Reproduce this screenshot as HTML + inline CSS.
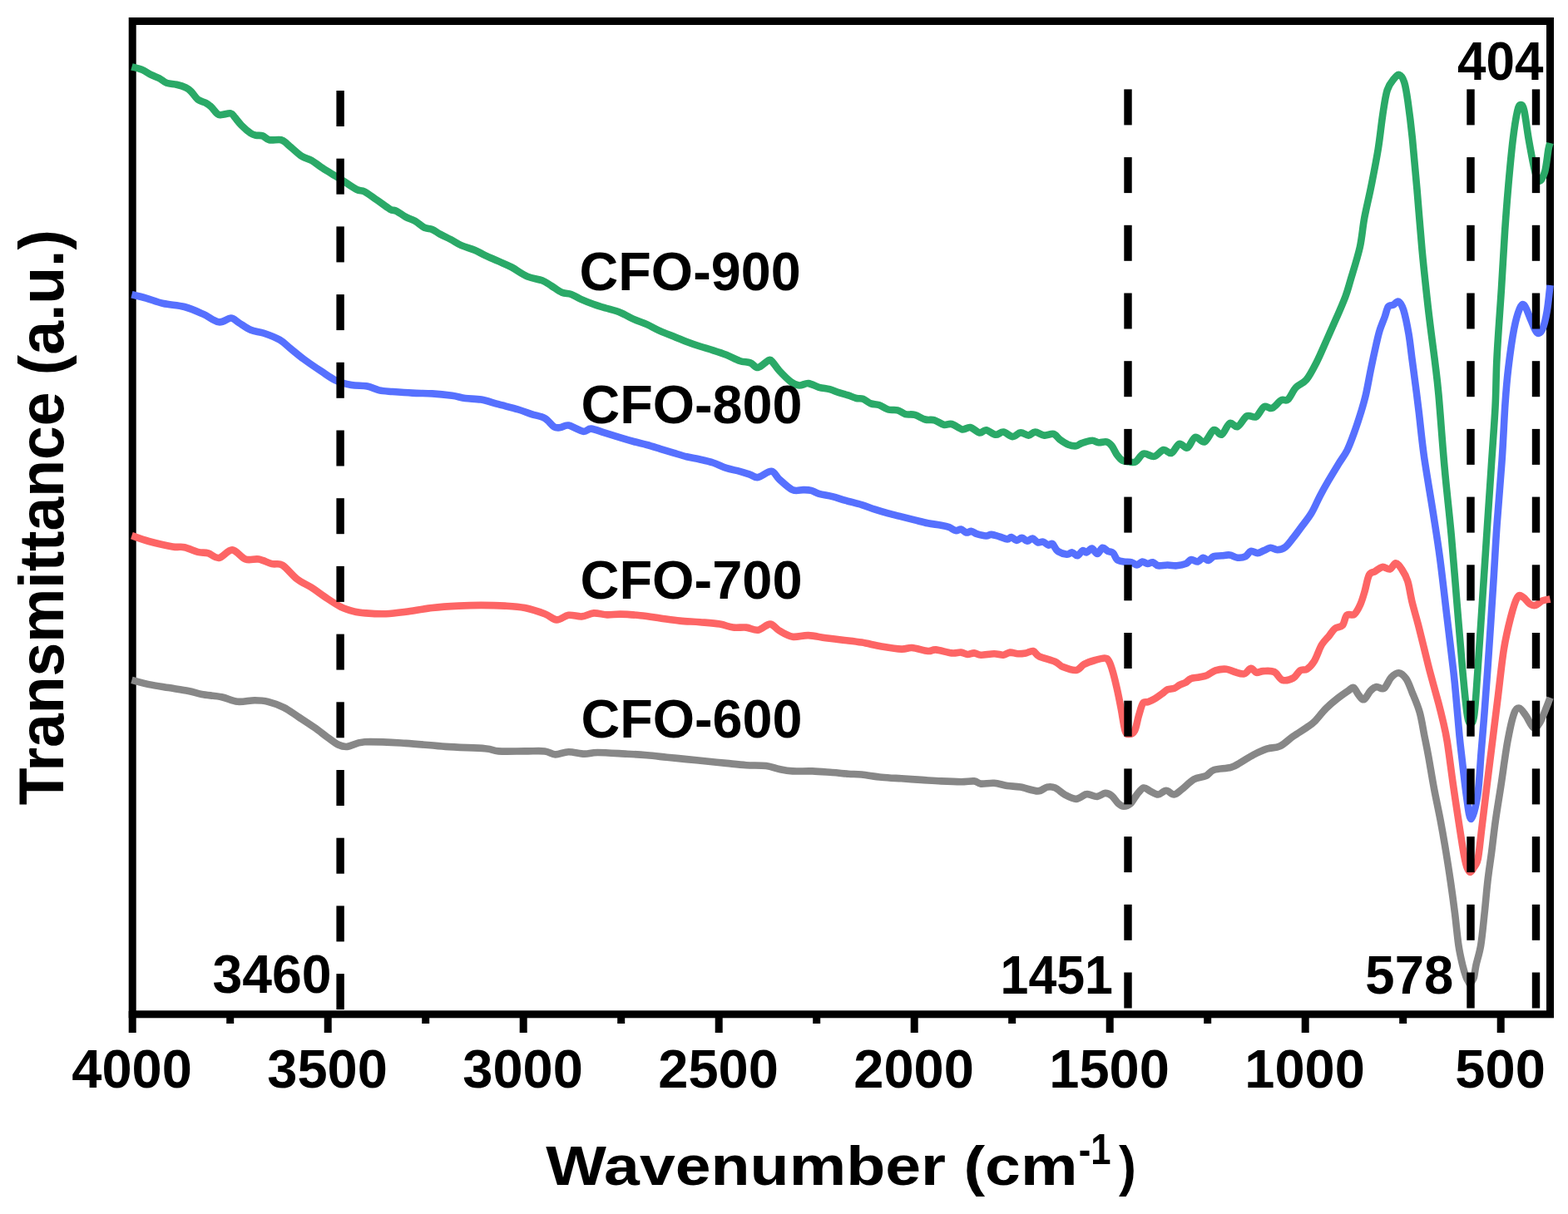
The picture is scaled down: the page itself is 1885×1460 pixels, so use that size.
<!DOCTYPE html>
<html><head><meta charset="utf-8"><title>FTIR spectra</title>
<style>html,body{margin:0;padding:0;background:#fff;}svg{display:block;}</style>
</head><body>
<svg width="1885" height="1460" viewBox="0 0 1885 1460">
<rect width="1885" height="1460" fill="#fff"/>
<rect x="159.2" y="25.5" width="1704.3" height="1194.3" fill="none" stroke="#000" stroke-width="9"/>
<g fill="none" stroke-width="8.6" stroke-linejoin="round" stroke-linecap="butt">
<path stroke="#878787" d="M158.4 817.9C161.8 818.8 171.5 821.6 178.9 823.1C186.3 824.6 194.8 825.8 202.7 827.1C210.6 828.4 220.0 829.7 226.6 831.0C233.2 832.3 235.9 833.8 242.5 835.0C249.1 836.2 259.2 836.7 266.4 838.2C273.6 839.7 278.9 843.1 285.5 843.8C292.1 844.5 300.1 842.2 306.2 842.2C312.3 842.2 316.3 842.3 322.1 843.8C327.9 845.2 335.1 847.8 341.2 850.9C347.3 854.0 352.6 858.1 358.7 862.1C364.8 866.1 372.0 870.7 377.8 874.8C383.6 878.9 388.9 883.2 393.7 886.7C398.5 890.2 402.5 893.6 406.5 895.5C410.5 897.4 412.3 898.4 417.6 897.9C422.9 897.4 426.6 893.0 438.3 892.3C450.0 891.6 471.5 893.0 487.7 893.9C503.9 894.8 519.6 896.8 535.5 897.9C551.4 899.0 572.6 899.3 583.2 900.2C593.8 901.1 591.2 902.9 599.2 903.4C607.2 903.9 621.7 903.4 631.0 903.4C640.3 903.4 648.8 902.7 654.9 903.4C661.0 904.1 662.8 907.3 667.6 907.4C672.4 907.5 677.7 904.3 683.5 904.2C689.3 904.1 696.8 906.5 702.6 906.6C708.4 906.7 710.0 905.0 718.5 905.0C727.0 905.0 744.0 906.2 753.9 906.7C763.8 907.2 769.8 907.6 777.7 908.3C785.7 909.0 793.6 909.9 801.6 910.7C809.6 911.5 817.5 912.3 825.5 913.1C833.5 913.9 841.4 914.7 849.4 915.5C857.4 916.3 865.2 917.1 873.2 917.9C881.2 918.7 889.1 919.7 897.1 920.2C905.1 920.7 914.4 920.2 921.0 921.0C927.6 921.8 931.6 923.9 936.9 925.0C942.2 926.1 946.2 927.0 952.8 927.4C959.4 927.8 968.7 927.1 976.7 927.4C984.7 927.7 993.4 928.5 1000.6 929.0C1007.8 929.5 1014.1 930.3 1020.0 930.7C1025.9 931.1 1029.3 930.8 1035.9 931.5C1042.5 932.2 1051.8 933.9 1059.8 934.7C1067.8 935.5 1075.8 935.8 1083.7 936.3C1091.7 936.8 1099.5 937.4 1107.5 937.9C1115.5 938.4 1123.4 939.0 1131.4 939.4C1139.4 939.8 1148.7 940.2 1155.3 940.2C1161.9 940.2 1167.2 939.0 1171.2 939.4C1175.2 939.8 1175.2 942.2 1179.2 942.6C1183.2 943.0 1189.8 941.4 1195.1 941.8C1200.4 942.2 1205.7 944.2 1211.0 945.0C1216.3 945.8 1220.8 945.5 1226.9 946.6C1233.0 947.7 1242.3 951.4 1247.6 951.4C1252.9 951.4 1255.2 947.3 1258.7 946.6C1262.2 945.9 1264.6 945.8 1268.3 947.4C1272.0 949.0 1276.8 954.0 1281.0 956.2C1285.2 958.5 1289.7 961.0 1293.7 960.9C1297.7 960.8 1302.3 956.3 1304.9 955.4C1307.5 954.5 1307.1 955.1 1309.5 955.5C1311.9 955.9 1315.9 958.2 1319.1 957.9C1322.3 957.6 1325.7 954.0 1328.6 953.9C1331.5 953.8 1333.9 955.0 1336.6 957.1C1339.3 959.2 1342.2 964.5 1344.6 966.6C1347.0 968.7 1348.5 969.8 1350.9 969.8C1353.3 969.8 1356.2 969.0 1358.9 966.6C1361.6 964.2 1364.2 958.7 1366.8 955.5C1369.4 952.3 1372.1 948.2 1374.8 947.5C1377.5 946.8 1379.9 950.2 1382.8 951.5C1385.7 952.8 1389.1 955.6 1392.3 955.5C1395.5 955.4 1398.7 950.7 1401.9 950.7C1405.1 950.7 1408.2 955.8 1411.4 955.5C1414.6 955.2 1417.0 952.1 1421.0 949.1C1425.0 946.1 1430.5 939.9 1435.3 937.2C1440.1 934.6 1445.6 935.1 1449.6 933.2C1453.6 931.3 1454.2 927.7 1459.2 926.0C1464.2 924.3 1474.5 924.4 1479.8 922.9C1485.1 921.4 1486.5 919.8 1491.0 917.3C1495.5 914.8 1501.6 910.5 1506.9 907.7C1512.2 904.9 1517.5 902.3 1522.8 900.6C1528.1 898.9 1533.4 899.9 1538.7 897.4C1544.0 894.9 1549.3 889.2 1554.6 885.5C1559.9 881.8 1566.4 878.0 1570.6 875.1C1574.8 872.2 1576.1 871.9 1580.0 868.0C1583.9 864.1 1589.5 856.6 1594.2 851.9C1599.0 847.1 1604.0 843.0 1608.5 839.5C1613.0 836.0 1617.9 832.7 1621.0 830.6C1624.1 828.5 1625.1 826.1 1627.2 827.0C1629.3 827.9 1631.3 833.5 1633.4 835.9C1635.5 838.3 1637.3 842.1 1639.7 841.2C1642.1 840.3 1645.2 833.1 1647.7 830.6C1650.2 828.1 1652.1 826.6 1654.8 826.1C1657.5 825.6 1660.7 829.8 1663.7 827.9C1666.7 826.0 1669.6 817.6 1672.6 814.5C1675.6 811.4 1678.5 808.9 1681.5 809.2C1684.5 809.5 1687.7 812.4 1690.4 816.3C1693.1 820.1 1694.8 825.6 1697.5 832.3C1700.2 839.0 1704.2 847.8 1706.7 856.7C1709.2 865.6 1710.7 876.6 1712.5 885.5C1714.3 894.4 1715.4 899.5 1717.3 910.0C1719.2 920.5 1721.6 935.6 1724.0 948.4C1726.4 961.2 1729.3 973.9 1731.7 986.7C1734.1 999.5 1736.4 1012.9 1738.4 1025.1C1740.4 1037.3 1742.0 1047.8 1743.8 1060.0C1745.6 1072.2 1747.4 1085.6 1749.0 1098.4C1750.6 1111.2 1751.9 1126.4 1753.4 1136.7C1754.9 1147.0 1756.7 1154.1 1758.2 1160.5C1759.7 1166.9 1761.3 1171.7 1762.5 1175.0C1763.7 1178.3 1764.5 1179.1 1765.3 1180.5C1766.1 1181.9 1766.5 1183.5 1767.2 1183.5C1767.9 1183.5 1768.4 1181.9 1769.2 1180.5C1770.0 1179.1 1771.1 1178.3 1772.0 1175.0C1772.9 1171.7 1773.1 1166.9 1774.5 1160.5C1775.9 1154.1 1778.5 1147.0 1780.2 1136.7C1781.9 1126.4 1783.2 1111.2 1784.6 1098.4C1786.0 1085.6 1787.0 1072.2 1788.4 1060.0C1789.8 1047.8 1791.5 1037.3 1793.1 1025.1C1794.7 1012.9 1796.0 1000.2 1797.9 986.7C1799.8 973.2 1802.1 959.9 1804.5 944.1C1806.9 928.3 1809.7 906.4 1812.3 892.1C1814.9 877.8 1817.7 864.9 1820.1 858.2C1822.5 851.5 1824.2 851.3 1826.6 851.7C1829.0 852.1 1831.7 856.9 1834.5 860.8C1837.3 864.7 1840.8 873.8 1843.6 875.1C1846.4 876.4 1848.8 872.7 1851.4 868.6C1854.0 864.5 1857.2 855.3 1859.2 850.4C1861.2 845.5 1862.8 840.9 1863.5 839.0"/>
<path stroke="#fd6565" d="M158.4 644.2C161.8 645.3 170.7 648.8 178.9 651.0C187.1 653.2 200.3 656.2 207.5 657.4C214.7 658.6 216.8 657.1 221.8 658.2C226.9 659.3 233.0 662.6 237.8 663.8C242.6 665.0 246.3 664.2 250.5 665.4C254.7 666.6 258.4 671.6 263.2 670.9C268.0 670.2 273.8 661.1 279.1 661.4C284.4 661.7 289.8 670.6 295.1 672.5C300.4 674.4 305.7 671.6 311.0 672.5C316.3 673.4 322.1 676.9 326.9 678.1C331.7 679.3 334.6 676.7 339.6 679.7C344.6 682.8 351.3 691.9 357.1 696.4C362.9 700.9 369.0 703.1 374.6 706.7C380.2 710.3 384.8 714.0 390.6 717.9C396.5 721.8 403.9 726.9 409.7 729.8C415.5 732.7 420.6 734.1 425.6 735.4C430.7 736.7 433.6 736.9 440.0 737.4C446.4 737.9 455.9 738.5 463.9 738.2C471.8 737.9 478.4 737.0 487.7 735.8C497.0 734.6 509.0 732.2 519.6 731.0C530.2 729.8 541.6 729.1 551.4 728.6C561.2 728.1 569.2 727.9 578.5 727.9C587.8 727.9 598.4 728.1 607.1 728.6C615.9 729.1 623.0 729.4 631.0 731.0C639.0 732.6 648.5 735.8 654.9 738.2C661.3 740.6 664.4 745.1 669.2 745.4C674.0 745.7 678.5 740.5 683.5 739.8C688.5 739.1 694.4 741.8 699.4 741.4C704.4 741.0 708.7 737.7 713.8 737.4C718.9 737.1 724.6 739.2 730.0 739.4C735.4 739.6 739.3 738.5 745.9 738.6C752.5 738.7 761.8 739.4 769.8 740.2C777.8 741.0 785.8 742.3 793.7 743.4C801.7 744.5 809.5 745.8 817.5 746.6C825.5 747.4 833.4 747.5 841.4 748.2C849.4 748.9 858.7 749.5 865.3 750.6C871.9 751.7 875.9 753.9 881.2 754.6C886.5 755.3 892.1 754.1 897.1 754.6C902.1 755.1 906.6 758.4 911.4 757.7C916.2 757.0 921.5 750.5 925.8 750.6C930.0 750.7 932.4 756.0 936.9 758.5C941.4 761.0 947.0 764.8 952.8 765.7C958.6 766.6 965.3 763.8 971.9 764.1C978.5 764.4 985.7 766.4 992.6 767.3C999.5 768.2 1006.1 768.8 1013.3 769.7C1020.5 770.6 1028.2 771.3 1035.9 772.6C1043.7 773.9 1051.8 776.1 1059.8 777.4C1067.8 778.7 1077.6 780.3 1083.7 780.6C1089.8 780.9 1091.1 778.6 1096.4 779.0C1101.7 779.4 1110.7 782.6 1115.5 783.0C1120.3 783.4 1120.2 781.0 1125.0 781.4C1129.8 781.8 1139.0 784.9 1144.1 785.4C1149.1 785.9 1152.1 784.3 1155.3 784.6C1158.5 784.9 1160.5 786.9 1163.2 787.0C1165.9 787.1 1168.5 785.3 1171.2 785.4C1173.9 785.5 1175.2 787.6 1179.2 787.7C1183.2 787.8 1190.6 786.2 1195.1 786.2C1199.6 786.2 1203.0 788.0 1206.2 787.7C1209.4 787.4 1211.3 784.9 1214.2 784.6C1217.1 784.4 1220.5 786.1 1223.7 786.2C1226.9 786.3 1230.2 785.9 1233.3 785.4C1236.3 784.9 1239.3 782.4 1242.0 783.0C1244.7 783.6 1244.8 787.2 1249.2 789.3C1253.6 791.4 1263.5 793.6 1268.3 795.7C1273.1 797.8 1273.6 800.4 1277.8 802.1C1282.0 803.8 1289.5 806.5 1293.7 806.0C1298.0 805.5 1299.5 800.9 1303.3 798.9C1307.1 796.9 1312.3 795.2 1316.4 794.0C1320.5 792.8 1325.2 791.4 1327.9 791.5C1330.7 791.6 1331.2 792.0 1332.9 794.8C1334.6 797.5 1336.2 802.5 1337.8 808.0C1339.4 813.5 1341.0 820.3 1342.7 827.7C1344.4 835.1 1346.1 843.8 1347.7 852.3C1349.3 860.8 1351.0 873.5 1352.6 878.6C1354.1 883.7 1355.1 883.0 1357.0 883.0C1358.9 883.0 1362.1 882.3 1364.1 878.6C1366.1 874.9 1367.3 866.1 1369.0 860.6C1370.7 855.1 1372.1 848.5 1374.0 845.8C1375.9 843.0 1378.1 845.1 1380.6 844.1C1383.1 843.1 1386.1 841.6 1388.8 840.0C1391.5 838.4 1394.5 836.1 1397.0 834.3C1399.5 832.5 1401.1 830.4 1403.6 829.3C1406.1 828.2 1409.3 828.7 1411.8 827.7C1414.3 826.8 1416.2 824.7 1418.4 823.6C1420.6 822.5 1422.7 822.3 1424.9 821.1C1427.1 819.9 1428.8 817.3 1431.5 816.2C1434.2 815.1 1438.1 815.2 1441.4 814.5C1444.7 813.8 1447.9 813.5 1451.2 812.1C1454.5 810.7 1457.2 807.5 1461.1 806.3C1464.9 805.1 1470.5 804.4 1474.3 804.7C1478.1 805.0 1480.5 807.0 1484.1 808.0C1487.6 809.0 1492.3 811.1 1495.6 810.4C1498.9 809.7 1501.3 804.1 1503.8 803.8C1506.3 803.5 1507.9 808.2 1510.4 808.8C1512.9 809.3 1515.0 807.2 1518.6 807.1C1522.2 807.0 1527.9 806.2 1531.8 808.0C1535.7 809.8 1537.9 816.6 1541.7 817.8C1545.5 819.0 1551.2 817.3 1554.8 815.4C1558.3 813.5 1560.3 808.1 1563.0 806.3C1565.7 804.5 1568.4 806.6 1571.2 804.7C1574.0 802.8 1577.0 799.9 1580.0 795.0C1583.0 790.1 1585.9 780.4 1588.9 775.4C1591.9 770.4 1595.1 768.0 1597.8 764.7C1600.5 761.4 1602.2 757.9 1604.9 755.8C1607.6 753.7 1611.4 754.9 1613.8 752.2C1616.2 749.5 1616.8 741.9 1619.2 739.7C1621.6 737.5 1625.4 740.9 1628.1 738.8C1630.8 736.7 1633.1 731.9 1635.2 727.3C1637.3 722.7 1638.8 717.2 1640.6 711.2C1642.4 705.2 1643.8 695.6 1645.9 691.6C1648.0 687.6 1650.3 688.8 1653.0 687.2C1655.7 685.6 1658.9 682.4 1661.9 681.9C1664.9 681.4 1668.1 685.2 1670.8 684.5C1673.5 683.8 1675.6 677.4 1678.0 677.4C1680.4 677.4 1682.7 680.9 1685.1 684.5C1687.5 688.1 1690.1 692.3 1692.2 698.8C1694.3 705.3 1695.4 715.1 1697.5 723.7C1699.6 732.3 1702.3 741.2 1704.7 750.4C1707.1 759.6 1709.4 769.4 1711.8 778.9C1714.2 788.4 1716.0 796.4 1718.9 807.4C1721.8 818.4 1726.6 835.2 1729.2 845.0C1731.8 854.8 1732.7 858.5 1734.5 866.3C1736.3 874.1 1737.7 879.0 1739.8 892.0C1741.9 905.0 1744.5 926.7 1747.0 944.1C1749.5 961.5 1752.6 981.9 1754.8 996.2C1757.0 1010.5 1758.8 1022.2 1760.3 1030.0C1761.8 1037.8 1762.3 1039.8 1763.5 1043.0C1764.7 1046.2 1766.2 1049.0 1767.6 1049.0C1769.0 1049.0 1770.5 1045.7 1772.0 1043.0C1773.5 1040.3 1775.2 1040.4 1776.8 1032.6C1778.3 1024.8 1779.5 1011.0 1781.3 996.2C1783.1 981.5 1785.5 961.5 1787.6 944.1C1789.7 926.7 1791.9 909.7 1794.1 892.0C1796.3 874.3 1798.5 856.5 1800.8 838.0C1803.1 819.5 1805.3 797.1 1807.8 781.3C1810.3 765.4 1813.3 753.4 1816.0 742.9C1818.7 732.4 1821.7 722.4 1824.2 718.3C1826.7 714.2 1828.6 716.9 1831.1 718.3C1833.6 719.7 1836.8 724.9 1839.3 726.5C1841.8 728.1 1843.6 728.6 1846.1 727.9C1848.6 727.2 1851.4 723.6 1854.3 722.4C1857.2 721.2 1862.0 720.8 1863.5 720.5"/>
<path stroke="#5670fe" d="M158.4 354.2C161.3 354.9 169.4 356.8 175.7 358.6C182.0 360.4 188.7 363.3 196.4 365.0C204.1 366.7 213.9 366.9 221.8 369.0C229.8 371.1 237.2 374.6 244.1 377.7C251.0 380.8 257.6 386.5 263.2 387.3C268.8 388.1 273.5 382.4 277.5 382.5C281.5 382.6 283.1 385.7 287.1 388.1C291.1 390.5 296.4 394.7 301.4 396.8C306.4 398.9 311.5 398.8 317.3 400.8C323.1 402.8 331.1 405.8 336.4 408.8C341.7 411.9 344.4 415.2 349.2 419.1C354.0 423.0 359.0 427.4 365.1 431.9C371.2 436.4 379.4 442.0 385.8 446.2C392.2 450.4 397.2 454.5 403.3 457.3C409.4 460.1 416.0 461.7 422.4 462.9C428.8 464.1 435.9 463.4 441.5 464.5C447.1 465.6 450.8 468.3 455.9 469.4C460.9 470.5 465.2 470.5 471.8 471.0C478.4 471.5 487.7 472.2 495.7 472.6C503.7 473.0 511.6 472.9 519.6 473.4C527.6 473.9 536.9 474.9 543.5 475.8C550.1 476.7 553.6 478.2 559.4 479.0C565.2 479.8 571.9 479.4 578.5 480.6C585.1 481.8 591.8 484.2 599.2 486.2C606.6 488.2 616.4 490.5 623.0 492.5C629.6 494.5 633.7 496.4 639.0 498.1C644.3 499.8 650.4 500.4 654.9 502.9C659.4 505.4 662.8 511.4 666.0 513.2C669.2 515.1 671.1 514.3 674.0 514.0C676.9 513.7 679.0 510.8 683.5 511.6C688.0 512.4 696.5 518.1 701.0 518.8C705.5 519.5 706.4 515.3 710.6 515.6C714.9 515.9 720.6 518.6 726.5 520.4C732.4 522.2 740.0 524.5 745.9 526.3C751.8 528.1 756.5 529.5 761.8 531.0C767.1 532.5 772.4 533.5 777.7 535.0C783.0 536.5 788.4 538.2 793.7 539.8C799.0 541.4 804.3 543.0 809.6 544.6C814.9 546.2 820.2 548.0 825.5 549.3C830.8 550.6 836.1 551.3 841.4 552.5C846.7 553.7 852.0 554.8 857.3 556.5C862.6 558.2 867.9 561.2 873.2 562.9C878.5 564.6 884.4 565.5 889.2 566.8C894.0 568.1 898.2 569.6 901.9 570.8C905.6 572.0 907.1 574.7 911.4 574.0C915.6 573.3 923.1 566.4 927.4 566.8C931.6 567.2 932.7 572.7 936.9 576.4C941.1 580.1 948.0 587.0 952.8 589.1C957.6 591.2 961.9 589.0 965.6 589.1C969.3 589.2 971.9 589.1 975.1 589.9C978.3 590.7 980.5 592.7 984.7 593.9C989.0 595.1 995.3 595.8 1000.6 597.1C1005.9 598.4 1010.6 600.2 1016.5 601.9C1022.4 603.6 1030.0 605.3 1035.9 607.1C1041.8 608.9 1046.5 610.9 1051.8 612.6C1057.1 614.3 1062.4 615.9 1067.7 617.4C1073.0 618.9 1078.4 620.1 1083.7 621.4C1089.0 622.7 1094.3 624.1 1099.6 625.4C1104.9 626.7 1110.2 628.2 1115.5 629.3C1120.8 630.3 1127.2 630.9 1131.4 631.7C1135.7 632.5 1138.1 633.0 1141.0 634.1C1143.9 635.2 1146.5 637.7 1148.9 638.1C1151.3 638.5 1153.2 636.1 1155.3 636.5C1157.4 636.9 1159.5 640.1 1161.6 640.5C1163.7 640.9 1165.9 638.6 1168.0 638.9C1170.1 639.2 1171.5 641.2 1174.4 642.1C1177.3 643.0 1182.6 644.4 1185.5 644.5C1188.4 644.6 1189.2 642.8 1191.9 642.9C1194.6 643.0 1198.2 644.4 1201.4 645.3C1204.6 646.2 1208.6 648.3 1211.0 648.4C1213.4 648.5 1214.0 645.7 1215.8 646.0C1217.6 646.3 1220.0 649.9 1222.1 650.0C1224.2 650.1 1226.4 646.7 1228.5 646.8C1230.6 646.9 1232.8 650.7 1234.9 650.8C1237.0 650.9 1239.1 647.3 1241.2 647.6C1243.3 647.9 1245.5 651.7 1247.6 652.4C1249.7 653.1 1251.9 651.1 1254.0 651.6C1256.1 652.1 1258.5 655.2 1260.3 655.6C1262.1 656.0 1263.2 652.8 1265.1 654.0C1267.0 655.2 1268.6 660.7 1271.5 662.8C1274.4 664.9 1279.7 666.4 1282.6 666.7C1285.5 667.0 1286.9 664.1 1289.0 664.4C1291.1 664.7 1293.2 668.7 1295.3 668.3C1297.4 667.9 1299.8 662.6 1301.7 662.0C1303.6 661.4 1304.6 664.8 1306.4 664.4C1308.2 664.0 1310.6 659.3 1312.7 659.6C1314.8 659.9 1317.0 666.1 1319.1 666.0C1321.2 665.9 1323.4 659.3 1325.5 658.8C1327.6 658.3 1329.7 661.8 1331.8 662.8C1333.9 663.8 1336.3 663.4 1338.2 665.1C1340.1 666.8 1340.9 671.4 1343.0 673.1C1345.1 674.8 1348.0 675.0 1350.9 675.5C1353.8 676.0 1357.8 675.6 1360.5 676.3C1363.2 677.0 1364.7 679.6 1366.8 679.5C1368.9 679.4 1371.1 675.8 1373.2 675.5C1375.3 675.2 1377.5 677.8 1379.6 677.9C1381.7 678.0 1383.8 675.9 1385.9 676.3C1388.0 676.7 1389.4 679.8 1392.3 680.3C1395.2 680.8 1399.8 679.5 1403.5 679.5C1407.2 679.5 1410.9 680.6 1414.6 680.3C1418.3 680.0 1422.8 679.1 1425.7 677.9C1428.6 676.7 1429.7 673.5 1432.1 673.1C1434.5 672.7 1437.7 675.9 1440.1 675.5C1442.5 675.1 1444.3 671.0 1446.4 670.7C1448.5 670.4 1450.7 674.2 1452.8 673.9C1454.9 673.6 1456.5 670.0 1459.2 669.1C1461.9 668.2 1465.5 668.6 1468.7 668.3C1471.9 668.0 1475.1 667.1 1478.3 667.5C1481.5 667.9 1484.6 670.4 1487.8 670.7C1491.0 671.0 1494.8 670.4 1497.4 669.1C1500.1 667.8 1501.3 663.5 1503.7 662.8C1506.1 662.1 1509.1 665.2 1511.7 665.1C1514.3 665.0 1516.9 663.0 1519.6 662.0C1522.2 661.0 1524.9 658.9 1527.6 658.8C1530.2 658.7 1532.6 661.3 1535.5 661.2C1538.4 661.1 1541.9 660.4 1545.1 658.0C1548.3 655.6 1551.5 650.8 1554.7 646.8C1557.9 642.8 1560.6 639.0 1564.2 634.1C1567.8 629.2 1572.7 623.5 1576.4 617.3C1580.2 611.1 1583.3 603.2 1586.7 596.7C1590.1 590.2 1593.2 584.7 1597.0 578.2C1600.8 571.7 1605.5 563.9 1609.3 557.7C1613.1 551.6 1616.5 547.5 1619.6 541.3C1622.7 535.1 1625.1 528.2 1627.8 520.7C1630.5 513.2 1633.6 504.0 1636.0 496.1C1638.4 488.2 1640.2 482.4 1642.2 473.5C1644.2 464.6 1646.2 452.6 1648.3 442.7C1650.3 432.8 1652.8 421.4 1654.5 413.9C1656.2 406.4 1656.9 403.0 1658.6 397.5C1660.3 392.0 1663.0 385.9 1664.7 381.1C1666.4 376.3 1667.2 371.2 1668.9 368.8C1670.6 366.4 1673.0 367.7 1675.0 366.7C1677.0 365.7 1679.2 361.6 1681.2 362.6C1683.2 363.6 1685.2 366.4 1687.3 372.9C1689.3 379.4 1691.8 391.7 1693.5 401.6C1695.2 411.5 1696.2 422.1 1697.6 432.4C1699.0 442.7 1700.3 452.6 1701.7 463.2C1703.1 473.8 1704.1 481.9 1705.8 496.1C1707.5 510.3 1709.1 528.4 1711.9 548.5C1714.8 568.6 1719.7 596.5 1722.9 617.0C1726.1 637.5 1728.4 651.2 1731.1 671.7C1733.8 692.2 1736.6 717.4 1739.3 740.2C1742.0 763.0 1745.5 791.2 1747.5 808.7C1749.5 826.2 1749.8 832.3 1751.0 845.0C1752.2 857.7 1753.4 873.8 1754.5 885.0C1755.6 896.2 1756.1 900.0 1757.5 912.0C1758.9 924.0 1761.1 944.8 1762.9 957.0C1764.7 969.2 1766.2 985.3 1768.5 985.0C1770.8 984.7 1774.5 968.3 1776.5 955.0C1778.5 941.7 1779.3 920.8 1780.6 905.0C1781.9 889.2 1782.7 880.6 1784.3 860.0C1785.9 839.4 1788.2 808.1 1790.0 781.3C1791.8 754.5 1793.8 724.2 1795.4 699.1C1797.0 674.0 1797.9 654.6 1799.6 630.6C1801.3 606.6 1803.8 579.3 1805.5 555.0C1807.2 530.7 1808.2 503.8 1809.5 485.0C1810.8 466.2 1811.5 457.3 1813.3 442.4C1815.1 427.5 1817.8 407.7 1820.1 395.8C1822.4 383.9 1824.9 376.0 1826.9 371.2C1829.0 366.4 1830.3 365.2 1832.4 367.0C1834.5 368.8 1836.8 376.6 1839.3 382.1C1841.8 387.6 1845.0 397.6 1847.5 399.9C1850.0 402.2 1852.2 400.1 1854.3 395.8C1856.3 391.5 1858.3 382.7 1859.8 373.9C1861.3 365.1 1862.9 348.1 1863.5 343.0"/>
<path stroke="#2aa967" d="M158.4 80.3C160.5 80.9 167.0 82.2 170.9 83.9C174.8 85.6 178.7 88.5 182.1 90.2C185.5 91.9 188.5 92.6 191.6 94.2C194.7 95.8 196.9 98.5 200.4 99.8C203.9 101.0 208.5 100.8 212.3 101.7C216.1 102.6 220.5 104.0 223.4 105.4C226.3 106.8 227.4 107.7 229.8 110.1C232.2 112.5 234.9 117.4 237.8 119.7C240.7 122.0 244.7 122.2 247.3 123.7C250.0 125.2 251.3 126.2 253.7 128.4C256.1 130.7 259.5 135.6 261.6 137.2C263.7 138.8 263.8 138.1 266.4 138.0C269.0 137.9 274.9 135.9 277.5 136.4C280.1 136.9 280.2 138.8 282.3 141.2C284.4 143.6 287.1 147.5 290.3 150.7C293.5 153.9 298.5 158.3 301.4 160.3C304.3 162.3 305.4 162.2 307.8 162.7C310.2 163.2 313.1 162.5 315.7 163.4C318.3 164.3 320.0 167.4 323.7 168.2C327.4 169.0 334.3 167.3 338.0 168.2C341.7 169.1 342.0 170.6 346.0 173.8C350.0 177.0 357.1 184.1 361.9 187.3C366.7 190.5 370.6 190.7 374.6 192.9C378.6 195.2 381.8 198.2 385.8 200.8C389.8 203.5 394.0 206.0 398.5 208.8C403.0 211.6 407.8 214.4 412.8 217.6C417.8 220.8 424.4 225.8 428.7 227.9C432.9 230.1 434.3 228.4 438.3 230.5C442.3 232.6 447.6 236.7 452.7 240.2C457.8 243.7 464.6 249.1 468.6 251.4C472.6 253.7 473.4 252.2 476.6 253.8C479.8 255.4 484.0 258.9 487.7 260.9C491.4 262.9 495.2 263.6 498.9 265.7C502.6 267.8 506.6 272.0 510.0 273.7C513.5 275.4 516.4 274.7 519.6 276.0C522.8 277.3 525.4 279.6 529.1 281.6C532.8 283.6 537.6 285.8 541.9 288.0C546.1 290.2 549.8 293.0 554.6 295.1C559.4 297.2 565.7 298.7 570.5 300.7C575.3 302.7 578.4 304.9 583.2 307.1C588.0 309.4 593.9 311.8 599.2 314.2C604.5 316.6 609.3 318.3 615.1 321.4C620.9 324.5 628.1 330.0 634.2 332.6C640.3 335.2 646.9 335.5 651.7 337.3C656.5 339.1 658.8 341.3 662.8 343.7C666.8 346.1 671.6 350.0 675.6 351.7C679.6 353.4 683.0 352.7 686.7 354.0C690.4 355.3 693.3 357.6 697.8 359.6C702.3 361.6 708.8 364.2 713.8 366.0C718.8 367.8 722.6 368.9 728.0 370.5C733.4 372.1 740.3 373.7 745.9 375.9C751.5 378.1 756.5 381.5 761.8 383.9C767.1 386.3 772.4 387.8 777.7 390.2C783.0 392.6 788.4 395.8 793.7 398.2C799.0 400.6 804.3 402.5 809.6 404.6C814.9 406.7 820.2 408.9 825.5 410.9C830.8 412.9 836.1 414.8 841.4 416.5C846.7 418.2 852.0 419.6 857.3 421.3C862.6 423.0 867.9 424.7 873.2 426.8C878.5 428.9 884.4 432.4 889.2 434.0C894.0 435.6 898.2 435.1 901.9 436.4C905.6 437.7 907.7 442.5 911.4 442.0C915.1 441.5 921.3 434.3 924.2 433.2C927.1 432.1 926.8 433.5 928.9 435.6C931.0 437.7 933.2 441.9 936.9 445.9C940.6 449.9 947.2 456.6 951.2 459.5C955.2 462.4 957.3 463.2 960.8 463.5C964.2 463.8 967.9 460.7 971.9 461.1C975.9 461.5 980.4 464.6 984.6 465.8C988.9 467.0 993.4 467.1 997.4 468.2C1001.4 469.3 1004.8 471.0 1008.5 472.2C1012.2 473.4 1016.2 474.3 1019.7 475.4C1023.2 476.5 1026.5 478.3 1029.5 479.0C1032.5 479.7 1034.6 478.7 1037.5 479.8C1040.4 480.9 1043.9 484.2 1047.1 485.4C1050.3 486.6 1053.2 485.8 1056.6 487.0C1060.0 488.2 1064.0 491.4 1067.7 492.5C1071.4 493.6 1075.5 492.4 1078.9 493.3C1082.4 494.2 1085.0 497.2 1088.4 498.1C1091.9 499.0 1095.6 497.8 1099.6 498.9C1103.6 500.0 1108.3 503.4 1112.3 504.5C1116.3 505.6 1119.7 504.2 1123.4 505.3C1127.1 506.4 1131.1 510.0 1134.6 510.8C1138.0 511.6 1140.4 509.1 1144.1 510.0C1147.8 510.9 1153.2 515.7 1156.9 516.4C1160.6 517.1 1163.0 513.3 1166.4 514.0C1169.9 514.7 1174.4 519.9 1177.6 520.4C1180.8 520.9 1182.3 516.8 1185.5 517.2C1188.7 517.6 1193.2 522.4 1196.7 522.8C1200.2 523.2 1202.8 519.2 1206.2 519.6C1209.7 520.0 1214.0 525.0 1217.4 525.1C1220.9 525.2 1223.7 520.6 1226.9 520.4C1230.1 520.1 1233.6 523.7 1236.5 523.6C1239.4 523.5 1241.2 519.6 1244.4 519.6C1247.6 519.6 1251.9 523.2 1255.6 523.6C1259.3 524.0 1263.5 521.1 1266.7 522.0C1269.9 522.9 1271.8 527.0 1274.7 529.1C1277.6 531.2 1281.0 533.5 1284.2 534.7C1287.4 535.9 1291.1 536.6 1293.7 536.3C1296.3 536.0 1296.9 534.2 1300.1 533.1C1303.3 532.0 1309.3 529.9 1312.7 529.8C1316.1 529.6 1317.8 531.9 1320.7 532.2C1323.6 532.5 1327.6 530.7 1330.2 531.4C1332.8 532.1 1334.5 533.6 1336.6 536.2C1338.7 538.9 1340.9 544.4 1343.0 547.3C1345.1 550.2 1346.9 552.4 1349.3 553.7C1351.7 555.0 1354.6 555.0 1357.3 555.3C1360.0 555.6 1362.4 556.9 1365.3 555.3C1368.2 553.7 1371.1 546.8 1374.8 545.7C1378.5 544.6 1383.5 549.7 1387.5 548.9C1391.5 548.1 1395.2 541.7 1398.7 541.0C1402.2 540.3 1405.0 546.1 1408.2 544.9C1411.4 543.7 1414.6 534.8 1417.8 533.8C1421.0 532.8 1424.1 539.9 1427.3 538.6C1430.5 537.3 1433.5 527.0 1436.9 525.8C1440.4 524.6 1444.3 532.8 1448.0 531.4C1451.7 530.0 1455.8 518.5 1459.2 517.1C1462.7 515.7 1465.5 524.0 1468.7 522.7C1471.9 521.4 1475.1 510.7 1478.3 509.1C1481.5 507.5 1484.4 514.6 1487.8 513.1C1491.2 511.7 1495.2 502.4 1498.9 500.4C1502.6 498.4 1506.6 503.1 1510.1 501.2C1513.5 499.3 1516.4 490.9 1519.6 489.2C1522.8 487.5 1525.8 492.1 1529.2 490.8C1532.7 489.5 1537.1 483.0 1540.3 481.3C1543.5 479.6 1545.4 483.0 1548.3 480.5C1551.2 478.0 1554.1 470.2 1557.8 466.2C1561.5 462.2 1566.5 461.6 1570.6 456.6C1574.7 451.6 1578.4 444.2 1582.6 436.0C1586.8 427.8 1591.4 416.6 1595.5 407.5C1599.6 398.4 1603.5 389.6 1607.2 381.1C1610.9 372.6 1614.7 363.9 1617.5 356.4C1620.3 348.9 1620.9 345.8 1623.8 336.0C1626.7 326.2 1632.0 309.8 1634.8 297.4C1637.5 285.0 1638.0 274.1 1640.3 261.8C1642.6 249.5 1645.8 237.1 1648.5 223.4C1651.2 209.7 1654.4 193.8 1656.7 179.6C1659.0 165.4 1660.4 150.4 1662.2 138.5C1664.0 126.6 1665.4 115.7 1667.7 108.4C1670.0 101.1 1673.5 97.8 1675.9 94.7C1678.3 91.6 1680.2 89.3 1682.3 90.0C1684.3 90.7 1686.5 93.7 1688.2 99.0C1689.9 104.3 1690.9 110.8 1692.5 122.0C1694.1 133.2 1696.1 148.8 1697.9 166.5C1699.7 184.2 1701.6 205.8 1703.5 228.0C1705.4 250.2 1707.5 278.3 1709.5 300.0C1711.5 321.7 1713.7 341.3 1715.5 358.0C1717.3 374.7 1718.8 386.7 1720.5 400.0C1722.2 413.3 1723.9 425.5 1725.4 438.0C1726.9 450.5 1727.6 454.3 1729.5 475.0C1731.4 495.7 1734.0 534.0 1736.6 562.2C1739.1 590.4 1742.3 616.9 1744.8 644.3C1747.3 671.7 1749.3 699.1 1751.6 726.5C1753.9 753.9 1756.5 787.0 1758.5 808.7C1760.5 830.5 1762.0 846.8 1763.5 857.0C1765.0 867.2 1766.0 869.5 1767.5 870.0C1769.0 870.5 1770.7 870.2 1772.2 860.0C1773.7 849.8 1774.7 831.0 1776.3 808.7C1777.9 786.5 1780.0 753.9 1781.8 726.5C1783.6 699.1 1785.4 671.7 1787.2 644.3C1789.0 616.9 1791.0 587.9 1792.7 562.2C1794.4 536.5 1796.3 512.2 1797.5 490.0C1798.7 467.8 1798.3 452.6 1799.6 428.7C1800.8 404.8 1803.4 371.6 1805.0 346.5C1806.6 321.4 1807.7 298.5 1809.1 278.0C1810.5 257.5 1811.7 241.6 1813.3 223.3C1814.9 205.1 1816.9 183.5 1818.7 168.5C1820.5 153.5 1822.6 140.6 1824.2 133.5C1825.8 126.4 1826.9 126.0 1828.3 126.0C1829.7 126.0 1830.8 126.4 1832.4 133.5C1834.0 140.6 1835.8 156.7 1837.9 168.5C1840.0 180.3 1842.8 195.9 1844.8 204.1C1846.8 212.3 1848.2 217.4 1850.2 217.8C1852.2 218.2 1855.2 213.2 1857.1 206.8C1859.0 200.4 1860.4 185.2 1861.5 179.4C1862.6 173.6 1863.2 173.2 1863.5 172.0"/>
</g>
<g fill="#000">
<rect x="404.4" y="109.0" width="9.4" height="43.0"/><rect x="404.4" y="190.7" width="9.4" height="43.0"/><rect x="404.4" y="272.4" width="9.4" height="43.0"/><rect x="404.4" y="354.1" width="9.4" height="43.0"/><rect x="404.4" y="435.8" width="9.4" height="43.0"/><rect x="404.4" y="517.5" width="9.4" height="43.0"/><rect x="404.4" y="599.2" width="9.4" height="43.0"/><rect x="404.4" y="680.9" width="9.4" height="43.0"/><rect x="404.4" y="762.6" width="9.4" height="43.0"/><rect x="404.4" y="844.3" width="9.4" height="43.0"/><rect x="404.4" y="926.0" width="9.4" height="43.0"/><rect x="404.4" y="1007.7" width="9.4" height="43.0"/><rect x="404.4" y="1089.4" width="9.4" height="43.0"/><rect x="404.4" y="1171.1" width="9.4" height="43.0"/>
<rect x="1351.3" y="107.4" width="9.4" height="43.0"/><rect x="1351.3" y="189.1" width="9.4" height="43.0"/><rect x="1351.3" y="270.8" width="9.4" height="43.0"/><rect x="1351.3" y="352.5" width="9.4" height="43.0"/><rect x="1351.3" y="434.2" width="9.4" height="43.0"/><rect x="1351.3" y="515.9" width="9.4" height="43.0"/><rect x="1351.3" y="597.6" width="9.4" height="43.0"/><rect x="1351.3" y="679.3" width="9.4" height="43.0"/><rect x="1351.3" y="761.0" width="9.4" height="43.0"/><rect x="1351.3" y="842.7" width="9.4" height="43.0"/><rect x="1351.3" y="924.4" width="9.4" height="43.0"/><rect x="1351.3" y="1006.1" width="9.4" height="43.0"/><rect x="1351.3" y="1087.8" width="9.4" height="43.0"/><rect x="1351.3" y="1169.5" width="9.4" height="43.0"/>
<rect x="1763.3" y="107.4" width="9.4" height="43.0"/><rect x="1763.3" y="189.1" width="9.4" height="43.0"/><rect x="1763.3" y="270.8" width="9.4" height="43.0"/><rect x="1763.3" y="352.5" width="9.4" height="43.0"/><rect x="1763.3" y="434.2" width="9.4" height="43.0"/><rect x="1763.3" y="515.9" width="9.4" height="43.0"/><rect x="1763.3" y="597.6" width="9.4" height="43.0"/><rect x="1763.3" y="679.3" width="9.4" height="43.0"/><rect x="1763.3" y="761.0" width="9.4" height="43.0"/><rect x="1763.3" y="842.7" width="9.4" height="43.0"/><rect x="1763.3" y="924.4" width="9.4" height="43.0"/><rect x="1763.3" y="1006.1" width="9.4" height="43.0"/><rect x="1763.3" y="1087.8" width="9.4" height="43.0"/><rect x="1763.3" y="1169.5" width="9.4" height="43.0"/>
<rect x="1841.8" y="107.4" width="9.4" height="43.0"/><rect x="1841.8" y="189.1" width="9.4" height="43.0"/><rect x="1841.8" y="270.8" width="9.4" height="43.0"/><rect x="1841.8" y="352.5" width="9.4" height="43.0"/><rect x="1841.8" y="434.2" width="9.4" height="43.0"/><rect x="1841.8" y="515.9" width="9.4" height="43.0"/><rect x="1841.8" y="597.6" width="9.4" height="43.0"/><rect x="1841.8" y="679.3" width="9.4" height="43.0"/><rect x="1841.8" y="761.0" width="9.4" height="43.0"/><rect x="1841.8" y="842.7" width="9.4" height="43.0"/><rect x="1841.8" y="924.4" width="9.4" height="43.0"/><rect x="1841.8" y="1006.1" width="9.4" height="43.0"/><rect x="1841.8" y="1087.8" width="9.4" height="43.0"/><rect x="1841.8" y="1169.5" width="9.4" height="43.0"/>
</g>
<rect x="154.7" y="1216" width="9" height="26"/>
<g fill="#000"><rect x="272.2" y="1216" width="9" height="15.0"/><rect x="389.7" y="1216" width="9" height="26.0"/><rect x="507.2" y="1216" width="9" height="15.0"/><rect x="624.7" y="1216" width="9" height="26.0"/><rect x="742.2" y="1216" width="9" height="15.0"/><rect x="859.7" y="1216" width="9" height="26.0"/><rect x="977.2" y="1216" width="9" height="15.0"/><rect x="1094.7" y="1216" width="9" height="26.0"/><rect x="1212.2" y="1216" width="9" height="15.0"/><rect x="1329.7" y="1216" width="9" height="26.0"/><rect x="1447.2" y="1216" width="9" height="15.0"/><rect x="1564.7" y="1216" width="9" height="26.0"/><rect x="1682.2" y="1216" width="9" height="15.0"/><rect x="1799.7" y="1216" width="9" height="26.0"/></g>
<g fill="#000" style="font-family:'Liberation Sans',Arial,Helvetica,sans-serif;font-weight:bold;font-size:65px">
<text x="158.6" y="1307.8" text-anchor="middle">4000</text><text x="393.6" y="1307.8" text-anchor="middle">3500</text><text x="628.6" y="1307.8" text-anchor="middle">3000</text><text x="863.6" y="1307.8" text-anchor="middle">2500</text><text x="1098.6" y="1307.8" text-anchor="middle">2000</text><text x="1333.6" y="1307.8" text-anchor="middle">1500</text><text x="1568.6" y="1307.8" text-anchor="middle">1000</text><text x="1803.6" y="1307.8" text-anchor="middle">500</text>
</g>
<text transform="matrix(0.9893 0.0000 0.0000 0.9978 255.52 1193.50)" style="font-family:'Liberation Sans',Arial,Helvetica,sans-serif;font-weight:bold;font-size:65px">3460</text>
<text transform="matrix(0.9360 0.0000 0.0000 0.9978 1202.56 1194.50)" style="font-family:'Liberation Sans',Arial,Helvetica,sans-serif;font-weight:bold;font-size:65px">1451</text>
<text transform="matrix(0.9760 0.0000 0.0000 1.0000 1641.35 1194.50)" style="font-family:'Liberation Sans',Arial,Helvetica,sans-serif;font-weight:bold;font-size:65px">578</text>
<text transform="matrix(0.9533 0.0000 0.0000 1.0089 1752.05 95.90)" style="font-family:'Liberation Sans',Arial,Helvetica,sans-serif;font-weight:bold;font-size:65px">404</text>
<text transform="matrix(0.9954 0.0000 0.0000 1.0089 696.61 349.40)" style="font-family:'Liberation Sans',Arial,Helvetica,sans-serif;font-weight:bold;font-size:65px">CFO-900</text>
<text transform="matrix(0.9954 0.0000 0.0000 0.9889 698.41 508.80)" style="font-family:'Liberation Sans',Arial,Helvetica,sans-serif;font-weight:bold;font-size:65px">CFO-800</text>
<text transform="matrix(0.9989 0.0000 0.0000 1.0089 697.50 720.30)" style="font-family:'Liberation Sans',Arial,Helvetica,sans-serif;font-weight:bold;font-size:65px">CFO-700</text>
<text transform="matrix(0.9954 0.0000 0.0000 0.9889 698.41 886.80)" style="font-family:'Liberation Sans',Arial,Helvetica,sans-serif;font-weight:bold;font-size:65px">CFO-600</text>
<text transform="matrix(1.1498 0.0000 0.0000 0.9839 656.20 1425.23)" style="font-family:'Liberation Sans',Arial,Helvetica,sans-serif;font-weight:bold;font-size:67px">Wavenumber (cm</text>
<text transform="matrix(0.8925 0.0000 0.0000 1.0606 1296.71 1400.30)" style="font-family:'Liberation Sans',Arial,Helvetica,sans-serif;font-weight:bold;font-size:49px">-1</text>
<text transform="matrix(0.9368 0.0000 0.0000 0.9839 1345.00 1425.23)" style="font-family:'Liberation Sans',Arial,Helvetica,sans-serif;font-weight:bold;font-size:67px">)</text>
<text transform="matrix(0.0000 -0.9395 0.9808 0.0000 76.21 968.24)" style="font-family:'Liberation Sans',Arial,Helvetica,sans-serif;font-weight:bold;font-size:78px">Transmittance (a.u.)</text>
</svg>
</body></html>
